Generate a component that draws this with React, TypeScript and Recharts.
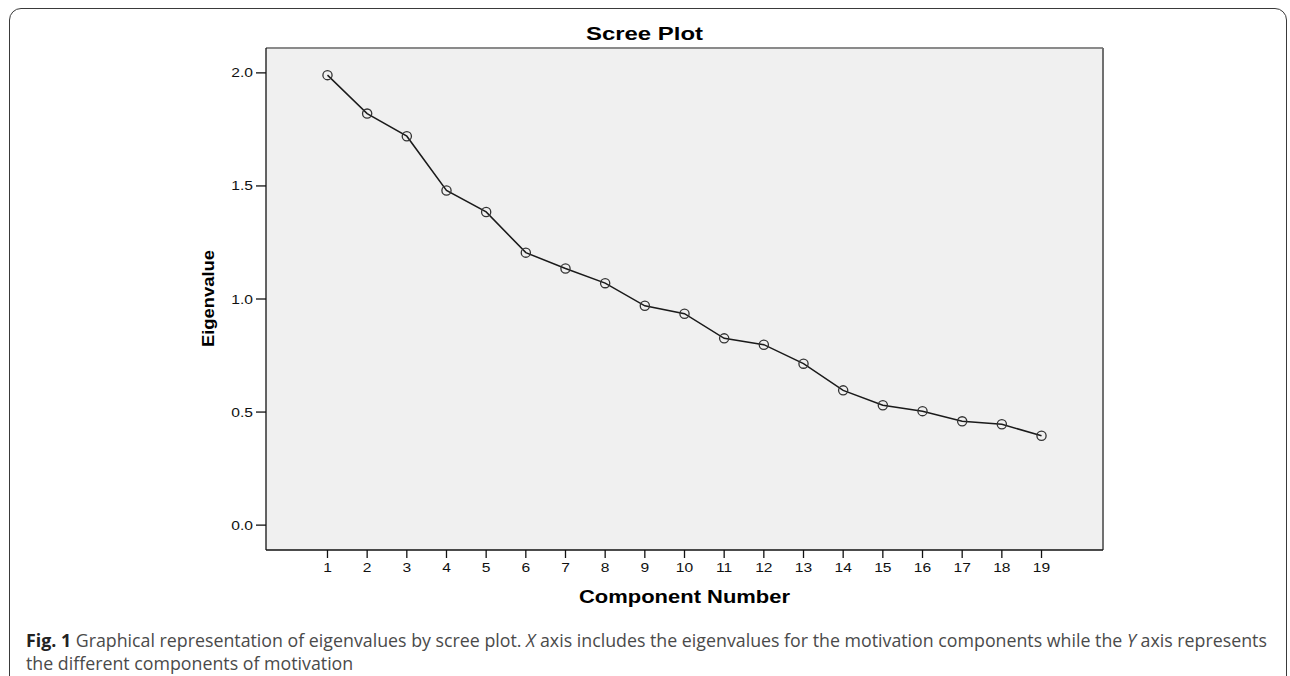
import React from "react";
import {
  LineChart,
  Line,
  XAxis,
  YAxis,
  CartesianGrid,
  ReferenceLine,
} from "recharts";

// ---- data ----
const components: number[] = [1, 2, 3, 4, 5, 6, 7, 8, 9, 10, 11, 12, 13, 14, 15, 16, 17, 18, 19];
const eigenvalues: number[] = [
  1.99, 1.82, 1.72, 1.48, 1.385, 1.205, 1.135, 1.07, 0.97, 0.935, 0.826, 0.798,
  0.714, 0.596, 0.53, 0.504, 0.459, 0.446, 0.395,
];
const yTicks: number[] = [0, 0.5, 1.0, 1.5, 2.0];
const xDomain: [number, number] = [-0.55, 20.55];
const yDomain: [number, number] = [-0.11, 2.11];

const titleText = "Scree Plot";
const xLabelText = "Component Number";
const yLabelText = "Eigenvalue";

const data = components.map((c, i) => ({ component: c, eigenvalue: eigenvalues[i] }));

const AXIS_FONT = "'Liberation Sans', Arial, sans-serif";

const YTick = (props: any) => {
  const { x, y, payload } = props;
  return (
    <text
      transform={`translate(${x - 1},${y}) scale(1.2,1)`}
      textAnchor="end"
      dominantBaseline="central"
      fontFamily={AXIS_FONT}
      fontSize={13}
      fill="#111"
    >
      {Number(payload.value).toFixed(1)}
    </text>
  );
};

const XTick = (props: any) => {
  const { x, y, payload } = props;
  return (
    <text
      transform={`translate(${x},${y + 12}) scale(1.2,1)`}
      textAnchor="middle"
      fontFamily={AXIS_FONT}
      fontSize={13}
      fill="#111"
    >
      {String(payload.value)}
    </text>
  );
};

const Dot = (props: any) => {
  const { cx, cy, index } = props;
  if (cx == null || cy == null) return null;
  return (
    <circle
      key={`d${index}`}
      cx={cx}
      cy={cy}
      r={4.6}
      fill="none"
      stroke="#333"
      strokeWidth={1.3}
    />
  );
};

export default function App() {
  return (
    <div
      style={{
        position: "absolute",
        left: 0,
        top: 0,
        width: 1290,
        height: 676,
        overflow: "hidden",
        background: "#fff",
      }}
    >
      {/* outer frame */}
      <div
        style={{
          position: "absolute",
          left: 9,
          top: 8,
          width: 1278,
          height: 720,
          border: "1.6px solid #3a3a3a",
          borderRadius: 12,
          boxSizing: "border-box",
        }}
      />
      <div style={{ position: "absolute", left: 0, top: 0 }}>
        <LineChart
          width={1290}
          height={676}
          data={data}
          margin={{ top: 48, right: 187, bottom: 96, left: 206 }}
        >
          <CartesianGrid horizontal={false} vertical={false} fill="#f0f0f0" />
          <ReferenceLine y={yDomain[1]} stroke="#8a8a8a" strokeWidth={2} ifOverflow="visible" />
          <ReferenceLine x={xDomain[1]} stroke="#707070" strokeWidth={2} ifOverflow="visible" />
          <XAxis
            dataKey="component"
            type="number"
            domain={xDomain}
            ticks={components}
            allowDataOverflow
            interval={0}
            height={30}
            tickSize={8}
            tickMargin={2}
            axisLine={{ stroke: "#111", strokeWidth: 1.3 }}
            tickLine={{ stroke: "#111", strokeWidth: 1.3 }}
            tick={<XTick />}
          />
          <YAxis
            type="number"
            domain={yDomain}
            ticks={yTicks}
            allowDataOverflow
            interval={0}
            width={60}
            tickSize={10}
            tickMargin={2}
            axisLine={{ stroke: "#111", strokeWidth: 1.3 }}
            tickLine={{ stroke: "#111", strokeWidth: 1.3 }}
            tick={<YTick />}
          />
          <Line
            type="linear"
            dataKey="eigenvalue"
            stroke="#1a1a1a"
            strokeWidth={1.5}
            dot={<Dot />}
            activeDot={false}
            isAnimationActive={false}
          />
        </LineChart>
      </div>
      {/* titles */}
      <svg
        width={1290}
        height={676}
        style={{ position: "absolute", left: 0, top: 0, pointerEvents: "none" }}
      >
        <text
          x={644.5}
          y={39.5}
          textAnchor="middle"
          fontFamily={AXIS_FONT}
          fontWeight="bold"
          fontSize={19}
          textLength={117}
          lengthAdjust="spacingAndGlyphs"
          fill="#000"
        >
          {titleText}
        </text>
        <text
          x={684.5}
          y={603}
          textAnchor="middle"
          fontFamily={AXIS_FONT}
          fontWeight="bold"
          fontSize={18}
          textLength={211}
          lengthAdjust="spacingAndGlyphs"
          fill="#000"
        >
          {xLabelText}
        </text>
        <text
          x={213.5}
          y={298.5}
          transform="rotate(-90 213.5 298.5)"
          textAnchor="middle"
          fontFamily={AXIS_FONT}
          fontWeight="bold"
          fontSize={17}
          textLength={97}
          lengthAdjust="spacingAndGlyphs"
          fill="#000"
        >
          {yLabelText}
        </text>
      </svg>
      {/* caption */}
      <div
        style={{
          position: "absolute",
          left: 26,
          top: 629,
          fontFamily: "'Open Sans', sans-serif",
          fontSize: 17.8,
          lineHeight: "23px",
          color: "#4a4a4a",
          whiteSpace: "nowrap",
        }}
      >
        <div>
          <b style={{ color: "#222" }}>Fig. 1</b> Graphical representation of eigenvalues by scree plot.{" "}
          <i>X</i> axis includes the eigenvalues for the motivation components while the <i>Y</i> axis represents
        </div>
        <div>the different components of motivation</div>
      </div>
    </div>
  );
}
